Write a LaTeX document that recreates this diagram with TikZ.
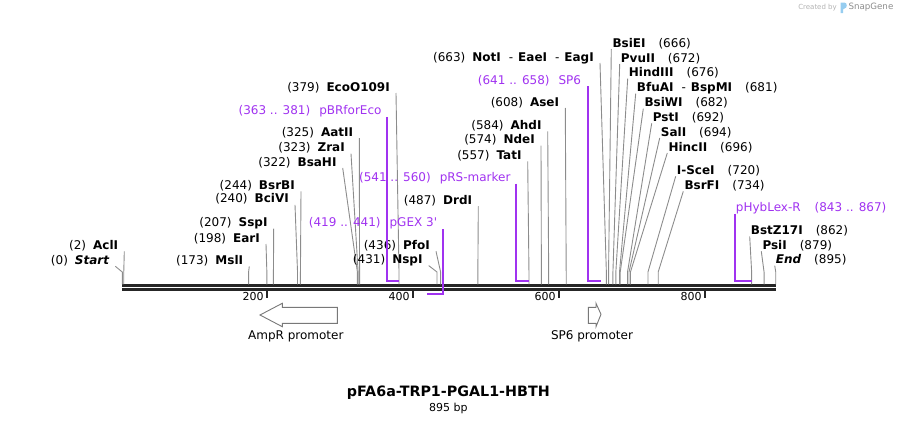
\documentclass[tikz,border=0pt]{standalone}
\usepackage{fontspec}
\setmainfont{DejaVu Sans}
\usepackage{tikz}
\usepackage{xcolor}
\usetikzlibrary{positioning}

\definecolor{primerpurple}{RGB}{160,50,240}
\definecolor{cutgray}{RGB}{140,140,140}
\definecolor{featgray}{RGB}{120,120,120}
\definecolor{logoblue}{RGB}{150,205,240}
\newcommand{\ensep}{\hspace{8pt}{\mdseries -}\hspace{5pt}}

\begin{document}
\begin{tikzpicture}[x=1pt, y=-1pt,
    every node/.style={font=\fontsize{12}{14}\selectfont, inner sep=0pt},
    site/.style={text=black},
    cut/.style={draw=cutgray, line width=0.9pt},
    primer/.style={draw=primerpurple, line width=1.8pt},
    primerlabel/.style={text=primerpurple},
    backbone/.style={draw=black!85, line width=2.7pt},
    tick/.style={draw=black!85, line width=2pt},
    ticklabel/.style={font=\fontsize{11}{13}\selectfont},
    promoter/.style={draw=featgray, fill=white, line width=0.9pt}]
    \useasboundingbox (0,0) rectangle (898,423);

    % Backbone
    \coordinate (bbstart) at (122.3,285.5);
    \coordinate (bbend) at (775.7,285.5);
    \draw[backbone] (bbstart) -- (bbend);
    \draw[backbone] ([yshift=-4.2]bbstart) -- ([yshift=-4.2]bbend);

    % Ticks
    \foreach \t in {200, 400, 600, 800} {
        \pgfmathsetmacro\tx{122.3+0.7301*\t-1.6}
        \coordinate (t\t) at (\tx,290.7);
        \draw[tick] (t\t) -- ([yshift=-6.8]t\t);
        \node[ticklabel, anchor=base east] (tl\t) at (\tx-3,300.8) {\t};
    }

    % Enzymes, labels on the left
    \foreach \p/\name/\lx/\ly [count=\i] in {
        0/{\itshape Start}/109.3/260, 2/AclI/118.3/245, 173/MslI/243.3/260,
        198/EarI/260/237.7, 207/SspI/267.7/222.3, 240/BciVI/289/198.5,
        244/BsrBI/295/185, 322/BsaHI/336.7/161.7, 323/ZraI/345/147.3,
        325/AatII/353.3/131.7, 379/EcoO109I/390/86.7, 431/NspI/422.7/259.3,
        436/PfoI/430/245, 487/DrdI/472.3/200, 557/TatI/521.7/155,
        574/NdeI/535/139.3, 584/AhdI/541.7/125, 608/AseI/559.3/101.7,
        663/{NotI\ensep EaeI\ensep EagI}/594/56.7} {
        \pgfmathsetmacro\sx{122.3+0.7301*\p}
        \node[site, anchor=base east] (el\i) at (\lx,\ly+4.3) {(\p)\hspace{7pt}{\bfseries \name}};
        \coordinate (sl\i) at (\sx,284.3);
        \draw[cut] ([shift={(6,2)}]el\i.base east) -- ([yshift=12.3]sl\i) -- (sl\i);
    }

    % Enzymes, labels on the right
    \foreach \p/\name/\lx/\ly [count=\i] in {
        666/BsiEI/612.3/42.7, 672/PvuII/620.7/57.7, 676/HindIII/628.7/72.3,
        681/{BfuAI\ensep BspMI}/636.7/87.3, 682/BsiWI/644.3/102.3,
        692/PstI/652.7/117, 694/SalI/660.7/131.7, 696/HincII/668.3/146.7,
        720/I-SceI/676.7/170, 734/BsrFI/684.3/185, 862/BstZ17I/750.7/230,
        879/PsiI/762.3/245, 895/{\itshape End}/775.7/259.3} {
        \pgfmathsetmacro\sx{122.3+0.7301*\p}
        \node[site, anchor=base west] (er\i) at (\lx,\ly+4.3) {{\bfseries \name}\hspace{13pt}(\p)};
        \coordinate (sr\i) at (\sx,284.3);
        \draw[cut] ([shift={(-1,2)}]er\i.base west) -- ([yshift=12.3]sr\i) -- (sr\i);
    }

    % Primers
    \node[primerlabel, anchor=base east] (pbr) at (381.7,114.3) {(363 .. 381)\hspace{9pt}pBRforEco};
    \coordinate (pbrA) at (386.7,281); \coordinate (pbrB) at (399,281);
    \draw[primer] (pbrA |- pbr.south) -- (pbrA) -- (pbrB);

    \node[primerlabel, anchor=base east] (prs) at (510.7,181) {(541 .. 560)\hspace{9pt}pRS-marker};
    \coordinate (prsA) at (515.7,281); \coordinate (prsB) at (529,281);
    \draw[primer] (prsA |- prs.south) -- (prsA) -- (prsB);

    \node[primerlabel, anchor=base east] (pgex) at (437.3,226.6) {(419 .. 441)\hspace{9pt}pGEX 3\textquotesingle};
    \coordinate (pgexA) at (443.3,294.3); \coordinate (pgexB) at (427,294.3);
    \draw[primer] (pgexA |- pgex.south) -- (pgexA) -- (pgexB);

    \node[primerlabel, anchor=base east] (psp) at (581.3,84.3) {(641 .. 658)\hspace{9pt}SP6};
    \coordinate (pspA) at (588.3,281); \coordinate (pspB) at (601,281);
    \draw[primer] (pspA |- psp.south) -- (pspA) -- (pspB);

    \node[primerlabel, anchor=base west] (phyb) at (735.7,211) {pHybLex-R\hspace{14pt}(843 .. 867)};
    \coordinate (phybA) at (735.3,281); \coordinate (phybB) at (752.3,281);
    \draw[primer] (phybA |- phyb.south) -- (phybA) -- (phybB);

    % Promoters
    \draw[promoter] (260,315) -- (282.3,303.3) -- (282.3,307.3) -- (337.3,307.3)
        -- (337.3,323.3) -- (282.3,323.3) -- (282.3,326.7) -- cycle;
    \node (ampr) at (295.8,336.7) {AmpR promoter};
    \draw[promoter] (588.3,307.3) -- (596,307.3) -- (596,303.3) -- (601,314.3)
        -- (596,326.7) -- (596,323.3) -- (588.3,323.3) -- cycle;
    \node (sp6p) at (592,336.7) {SP6 promoter};

    % Title
    \node[font=\fontsize{14.3}{16}\selectfont\bfseries] (title) at (448.3,392.7) {pFA6a-TRP1-PGAL1-HBTH};
    \node[font=\fontsize{11}{13}\selectfont, below=3pt of title] (size) {895 bp};

    % Credit
    \node[font=\fontsize{7}{9}\selectfont, text=black!30, anchor=east] (credit) at (837,7.5) {Created by};
    \fill[logoblue] (840.5,2.5) -- (844.5,2.5) .. controls (847.5,2.5) and (847.5,8.5) .. (844.5,8.5)
        -- (843.2,9.3) -- (843.2,13) -- (840.5,13) -- cycle;
    \node[font=\fontsize{8.7}{10}\selectfont, text=black!45, anchor=west] (snap) at (848.3,7.5) {SnapGene};
\end{tikzpicture}
\end{document}
